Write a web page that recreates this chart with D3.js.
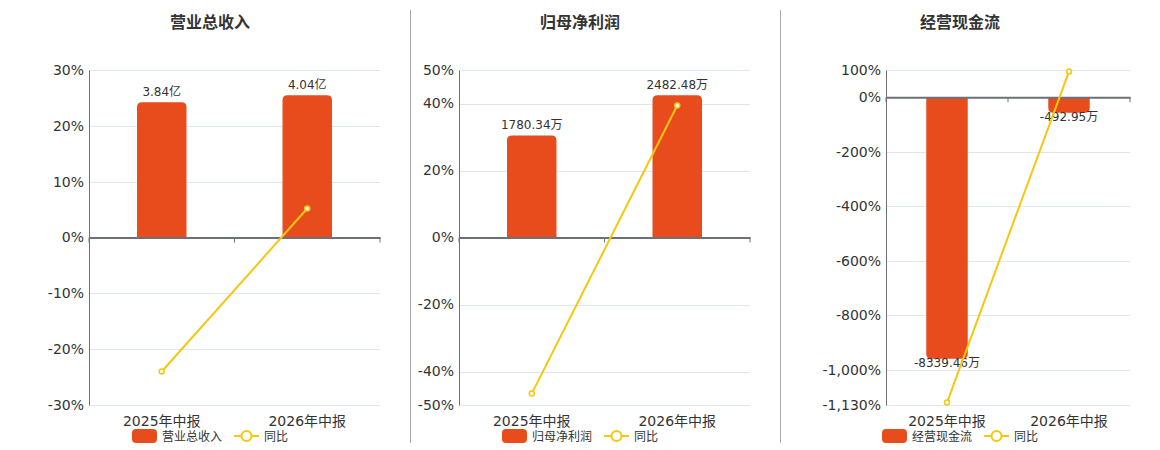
<!DOCTYPE html>
<html>
<head>
<meta charset="utf-8">
<script src="https://cdn.jsdelivr.net/npm/d3@7"></script>
<style>
  body { margin: 0; background: #fff; }
  text { font-family: "DejaVu Sans", "Noto Sans CJK SC", sans-serif; }
</style>
</head>
<body>
<div id="chart"></div>
<script>
// categories shared by all three panels
const categories = ["2025年中报", "2026年中报"];

// 营业总收入 (亿) and its yoy (%)
const revenue = [3.84, 4.04];
const revenueYoy = [-24.0, 5.2];
const revenueTicks = [-30, -20, -10, 0, 10, 20, 30];

// 归母净利润 (万) and its yoy (%)
const netProfit = [1780.34, 2482.48];
const netProfitYoy = [-46.6, 39.4];
const netProfitTicks = [-50, -40, -20, 0, 20, 40, 50];

// 经营现金流 (万) and its yoy (%)
const cashFlow = [-8339.46, -492.95];
const cashFlowYoy = [-1121, 94.1];
const cashFlowTicks = [-1130, -1000, -800, -600, -400, -200, 0, 100];

const BAR_COLOR = "#e84b1c";
const LINE_COLOR = "#f5c70f";

// plain hyphen instead of the unicode minus d3 uses
const pct = (d) => d3.format(",")(d).replace("\u2212", "-") + "%";

const svg = d3
  .select("#chart")
  .append("svg")
  .attr("width", 1160)
  .attr("height", 450);

// vertical dividers between panels
[410, 780].forEach((x) => {
  svg.append("line")
    .attr("x1", x + 0.5).attr("x2", x + 0.5)
    .attr("y1", 10).attr("y2", 443)
    .attr("stroke", "#aaa");
});

function barPath(x, w, y0, y1, r) {
  // rounded only on the far end of the bar
  const dir = y1 < y0 ? 1 : -1;
  const h = Math.abs(y1 - y0);
  r = Math.min(r, h, w / 2);
  return `M${x},${y0} L${x},${y1 + dir * r} Q${x},${y1} ${x + r},${y1}` +
    ` L${x + w - r},${y1} Q${x + w},${y1} ${x + w},${y1 + dir * r} L${x + w},${y0} Z`;
}

function drawPanel(opt) {
  const g = svg.append("g");
  const { left, right, top, bottom } = opt;

  const x = d3.scaleBand().domain(categories).range([left, right]);
  const y = d3.scaleLinear()
    .domain([d3.min(opt.ticks), d3.max(opt.ticks)])
    .range([bottom, top]);
  const zero = y(0);

  // bar axis shares the zero line, largest bar fills 85% of its side
  const maxAbs = d3.max(opt.bars, (d) => Math.abs(d));
  const positive = d3.max(opt.bars) > 0;
  const yBar = d3.scaleLinear()
    .domain([0, (positive ? 1 : -1) * maxAbs / 0.85])
    .range([zero, positive ? top : bottom]);

  // title
  g.append("text")
    .attr("x", opt.cx).attr("y", 28)
    .attr("text-anchor", "middle")
    .attr("font-size", "16px").attr("font-weight", "bold")
    .attr("fill", "#333")
    .text(opt.title);

  // grid lines
  g.selectAll("line.grid")
    .data(opt.ticks)
    .enter()
    .append("line")
    .attr("x1", left).attr("x2", right)
    .attr("y1", (d) => Math.round(y(d)) + 0.5)
    .attr("y2", (d) => Math.round(y(d)) + 0.5)
    .attr("stroke", "#e0e6f1");

  // left axis
  const yAxis = d3.axisLeft(y)
    .tickValues(opt.ticks)
    .tickSize(0)
    .tickPadding(5)
    .tickFormat(pct);
  const ya = g.append("g")
    .attr("transform", `translate(${left},0)`)
    .call(yAxis);
  ya.select(".domain").attr("stroke", "#6e7079");
  ya.selectAll("text")
    .attr("font-size", "14px")
    .attr("fill", "#333")
    .attr("font-family", "DejaVu Sans");

  // bars
  const bw = x.bandwidth() * 0.34;
  g.selectAll("path.bar")
    .data(opt.bars)
    .enter()
    .append("path")
    .attr("fill", BAR_COLOR)
    .attr("d", (d, i) =>
      barPath(x(categories[i]) + (x.bandwidth() - bw) / 2, bw, zero, yBar(d), 5));

  // bar labels
  g.selectAll("text.barlabel")
    .data(opt.bars)
    .enter()
    .append("text")
    .attr("x", (d, i) => x(categories[i]) + x.bandwidth() / 2)
    .attr("y", (d) => (d >= 0 ? yBar(d) - 6 : yBar(d) + 8))
    .attr("text-anchor", "middle")
    .attr("font-size", "12px")
    .attr("fill", "#333")
    .text((d) => d + opt.unit);

  // category axis on the zero line
  const xAxis = d3.axisBottom(x).tickSize(0).tickFormat("");
  const xa = g.append("g")
    .attr("transform", `translate(0,${zero})`)
    .call(xAxis);
  xa.select(".domain").attr("stroke", "#6e7079").attr("stroke-width", 2);
  [left, (left + right) / 2, right].forEach((tx) => {
    xa.append("line")
      .attr("x1", tx).attr("x2", tx)
      .attr("y1", 0).attr("y2", 5)
      .attr("stroke", "#6e7079");
  });

  // category labels at the bottom
  g.selectAll("text.cat")
    .data(categories)
    .enter()
    .append("text")
    .attr("x", (d) => x(d) + x.bandwidth() / 2)
    .attr("y", bottom + 21)
    .attr("text-anchor", "middle")
    .attr("font-size", "14px")
    .attr("fill", "#333")
    .text((d) => d);

  // yoy line
  const line = d3.line()
    .x((d, i) => x(categories[i]) + x.bandwidth() / 2)
    .y((d) => y(d));
  g.append("path")
    .datum(opt.yoy)
    .attr("d", line)
    .attr("fill", "none")
    .attr("stroke", LINE_COLOR)
    .attr("stroke-width", 2);
  g.selectAll("circle.pt")
    .data(opt.yoy)
    .enter()
    .append("circle")
    .attr("cx", (d, i) => x(categories[i]) + x.bandwidth() / 2)
    .attr("cy", (d) => y(d))
    .attr("r", 2.5)
    .attr("fill", "#fff")
    .attr("stroke", LINE_COLOR)
    .attr("stroke-width", 1.5);

  // legend
  const lg = g.append("g");
  const t1 = lg.append("text")
    .attr("font-size", "12px").attr("fill", "#333")
    .attr("y", 441).text(opt.title);
  const t2 = lg.append("text")
    .attr("font-size", "12px").attr("fill", "#333")
    .attr("y", 441).text("同比");
  const w1 = t1.node().getComputedTextLength();
  const w2 = t2.node().getComputedTextLength();
  const total = 25 + 5 + w1 + 12 + 25 + 5 + w2;
  let lx = opt.cx - total / 2;
  lg.append("rect")
    .attr("x", lx).attr("y", 429)
    .attr("width", 25).attr("height", 14)
    .attr("rx", 4)
    .attr("fill", BAR_COLOR);
  t1.attr("x", lx + 30);
  lx += 30 + w1 + 12;
  lg.append("line")
    .attr("x1", lx).attr("x2", lx + 25)
    .attr("y1", 436).attr("y2", 436)
    .attr("stroke", LINE_COLOR).attr("stroke-width", 2);
  lg.append("circle")
    .attr("cx", lx + 12.5).attr("cy", 436).attr("r", 5)
    .attr("fill", "#fff")
    .attr("stroke", LINE_COLOR).attr("stroke-width", 2);
  t2.attr("x", lx + 30);
}

drawPanel({
  title: "营业总收入", unit: "亿",
  bars: revenue, yoy: revenueYoy, ticks: revenueTicks,
  left: 89, right: 380, top: 70, bottom: 405, cx: 210,
});
drawPanel({
  title: "归母净利润", unit: "万",
  bars: netProfit, yoy: netProfitYoy, ticks: netProfitTicks,
  left: 459, right: 750, top: 70, bottom: 405, cx: 580,
});
drawPanel({
  title: "经营现金流", unit: "万",
  bars: cashFlow, yoy: cashFlowYoy, ticks: cashFlowTicks,
  left: 886, right: 1130, top: 70, bottom: 405, cx: 960,
});
</script>
</body>
</html>
